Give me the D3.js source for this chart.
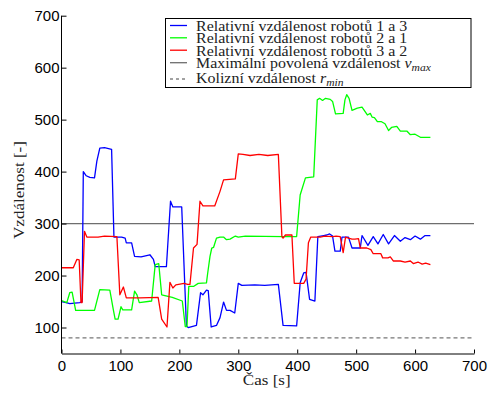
<!DOCTYPE html>
<html>
<head>
<meta charset="utf-8">
<script src="https://cdn.jsdelivr.net/npm/d3@7"></script>
<style>
  body { margin: 0; background: #fff; }
  .axis path, .axis line { stroke: #000; }
  .axis text { font-family: "Liberation Sans", Arial, sans-serif; font-size: 15px; fill: #000; }
</style>
</head>
<body>
<div id="chart"></div>
<script>
// [time s, distance]
const dist13 = [[0,150],[8,148],[14,146],[31,148],[35,150],[37,400],[42,392],[48,389],[56,388],[60,420],[65,445],[73,446],[85,443],[89,274],[102,274],[108,272],[110,263],[119,263],[124,237],[135,236],[150,240],[156,231],[159,217],[178,217],[185,343],[189,332],[204,332],[212,103],[215,100],[229,104],[236,167],[240,163],[246,172],[249,171],[254,101],[263,104],[269,119],[275,149],[280,133],[286,133],[294,128],[300,185],[306,181],[328,182],[345,181],[368,183],[376,104],[399,103],[405,186],[411,205],[415,206],[421,154],[430,151],[435,275],[445,277],[450,278],[455,280],[460,276],[464,247],[473,247],[476,274],[487,274],[493,253],[507,253],[510,277],[520,258],[529,275],[537,261],[546,279],[555,261],[565,277],[575,266],[583,273],[592,269],[600,276],[609,270],[617,277],[626,277]];

const dist21 = [[0,152],[9,148],[14,167],[18,168],[24,133],[56,133],[65,173],[82,172],[88,134],[91,116],[96,116],[101,140],[104,134],[119,134],[124,170],[128,163],[132,148],[153,151],[159,221],[165,223],[170,163],[188,158],[205,151],[210,102],[213,102],[216,179],[224,179],[232,185],[246,186],[248,204],[252,237],[255,253],[258,254],[263,272],[269,274],[275,274],[280,269],[286,270],[295,276],[300,274],[312,276],[377,275],[399,275],[405,355],[414,388],[428,390],[434,538],[438,541],[443,537],[448,541],[456,539],[460,535],[465,511],[478,512],[481,538],[484,548],[488,541],[493,518],[502,522],[510,524],[519,509],[524,512],[527,505],[531,504],[536,496],[543,496],[549,492],[555,479],[560,485],[569,487],[575,478],[586,478],[592,471],[600,472],[609,466],[626,466]];

const dist32 = [[0,215],[20,215],[26,231],[30,230],[33,148],[35,148],[39,285],[43,274],[62,274],[73,276],[94,275],[99,163],[105,178],[110,157],[133,157],[164,158],[170,116],[179,101],[184,187],[189,176],[194,182],[208,185],[214,183],[218,183],[224,253],[230,260],[235,343],[240,334],[244,334],[260,334],[269,362],[275,384],[295,386],[300,434],[308,433],[320,431],[335,433],[350,431],[368,433],[374,275],[376,272],[380,278],[391,278],[395,185],[411,185],[415,193],[419,263],[423,274],[439,274],[447,276],[460,275],[466,276],[473,275],[478,244],[482,274],[487,272],[493,270],[498,270],[504,271],[507,253],[518,253],[525,250],[529,242],[542,242],[545,234],[554,234],[558,236],[563,228],[575,228],[583,226],[592,228],[597,223],[605,226],[612,222],[618,224],[626,221]];

const vMax = 300;
const rMin = 80;
const xTicks = [0, 100, 200, 300, 400, 500, 600, 700];
const yTicks = [100, 200, 300, 400, 500, 600, 700];

const seriesNames = ["Relativní vzdálenost robotů 1 a 3", "Relativní vzdálenost robotů 2 a 1", "Relativní vzdálenost robotů 3 a 2"];
const seriesColors = ["#0000ff", "#00ff00", "#ff0000"];

const width = 491, height = 398;
const plot = { left: 61.5, right: 474, top: 15.7, bottom: 353.5 };
const serif = "'Liberation Serif', 'Times New Roman', 'DejaVu Serif', serif";
const stretch = 1.1;

const svg = d3.select("#chart").append("svg")
  .attr("width", width)
  .attr("height", height);

const x = d3.scaleLinear().domain([0, 700]).range([plot.left, plot.right]);
const y = d3.scaleLinear().domain([50, 700]).range([plot.bottom, plot.top]);

// reference lines
svg.append("line")
  .attr("x1", x(0)).attr("x2", x(700))
  .attr("y1", y(vMax)).attr("y2", y(vMax))
  .attr("stroke", "#6e6e6e").attr("stroke-width", 1.3);

svg.append("line")
  .attr("x1", x(0)).attr("x2", x(700))
  .attr("y1", y(rMin)).attr("y2", y(rMin))
  .attr("stroke", "#777").attr("stroke-width", 1.2)
  .attr("stroke-dasharray", "4,3");

const line = d3.line().x(d => x(d[0])).y(d => y(d[1]));

[dist13, dist21, dist32].forEach((data, i) => {
  svg.append("path")
    .datum(data)
    .attr("fill", "none")
    .attr("stroke", seriesColors[i])
    .attr("stroke-width", 1.3)
    .attr("stroke-linejoin", "round")
    .attr("d", line);
});

// axes
svg.append("g")
  .attr("class", "axis")
  .attr("transform", `translate(0, ${plot.bottom})`)
  .call(d3.axisBottom(x).tickValues(xTicks).tickSizeInner(-4).tickSizeOuter(0).tickPadding(6.5));

svg.append("g")
  .attr("class", "axis")
  .attr("transform", `translate(${plot.left}, 0)`)
  .call(d3.axisLeft(y).tickValues(yTicks).tickSizeInner(-5).tickSizeOuter(0).tickPadding(2))
  .select(".domain").attr("d", `M0,${plot.top}V${plot.bottom}`);

function serifText(sel, size) {
  return sel.append("text")
    .attr("font-family", serif)
    .attr("font-size", size)
    .attr("fill", "#222");
}

// axis titles
serifText(svg, 15.5)
  .attr("transform", `translate(24, 190) rotate(-90) scale(${stretch}, 1)`)
  .attr("text-anchor", "middle")
  .text("Vzdálenost [-]");

serifText(svg, 15.5)
  .attr("transform", `translate(266.7, 385) scale(${stretch}, 1)`)
  .attr("text-anchor", "middle")
  .text("Čas [s]");

// legend
const legend = svg.append("g");
legend.append("rect")
  .attr("x", 165.5).attr("y", 18.5)
  .attr("width", 305.5).attr("height", 69)
  .attr("fill", "#fff").attr("stroke", "#000").attr("stroke-width", 1);

const rowY = [31, 43.4, 56, 68.4, 83.3];
const lineY = [25.5, 37.8, 50.2, 62.7, 79];

function legendText(i) {
  return serifText(legend, 14.5)
    .attr("transform", `translate(196, ${rowY[i]}) scale(${stretch}, 1)`);
}

seriesNames.forEach((name, i) => {
  legend.append("line")
    .attr("x1", 170).attr("x2", 187)
    .attr("y1", lineY[i]).attr("y2", lineY[i])
    .attr("stroke", seriesColors[i]).attr("stroke-width", 1.3);
  legendText(i).text(name);
});

legend.append("line")
  .attr("x1", 170).attr("x2", 187)
  .attr("y1", lineY[3]).attr("y2", lineY[3])
  .attr("stroke", "#6e6e6e").attr("stroke-width", 1.3);
const t4 = legendText(3);
t4.append("tspan").text("Maximální povolená vzdálenost ");
t4.append("tspan").attr("font-style", "italic").text("v");
t4.append("tspan").attr("font-style", "italic").attr("font-size", 10.5).attr("dy", 2.5).text("max");

legend.append("line")
  .attr("x1", 170).attr("x2", 187)
  .attr("y1", lineY[4]).attr("y2", lineY[4])
  .attr("stroke", "#444").attr("stroke-width", 1)
  .attr("stroke-dasharray", "3,3");
const t5 = legendText(4);
t5.append("tspan").text("Kolizní vzdálenost ");
t5.append("tspan").attr("font-style", "italic").text("r");
t5.append("tspan").attr("font-style", "italic").attr("font-size", 10.5).attr("dy", 2.5).text("min");
</script>
</body>
</html>
